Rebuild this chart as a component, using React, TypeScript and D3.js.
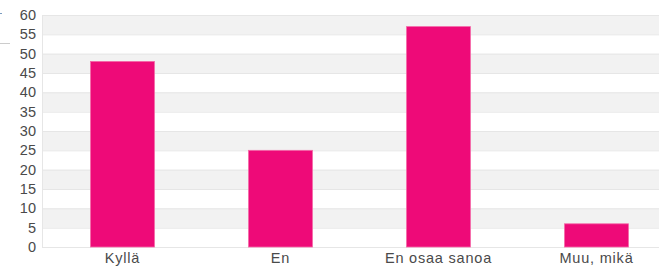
import React, { useEffect, useRef } from "react";
import * as d3 from "d3";

const categories = ["Kyllä", "En", "En osaa sanoa", "Muu, mikä"];
const values = [48, 25, 57, 6];
const yTicks = [0, 5, 10, 15, 20, 25, 30, 35, 40, 45, 50, 55, 60];

const W = 659;
const H = 267;

export default function App() {
  const svgRef = useRef<SVGSVGElement>(null);

  useEffect(() => {
    const svg = d3.select(svgRef.current);
    svg.selectAll("*").remove();

    const left = 42;
    const top = 15;
    const bottom = 247;

    // the plot runs past the right edge of the picture
    const x = d3
      .scaleBand()
      .domain(categories)
      .range([left + 1.5, left + 633.5])
      .paddingInner(0.595)
      .paddingOuter(0.2975);
    const y = d3.scaleLinear().domain([0, 60]).range([bottom, top]);

    // alternating bands
    svg
      .append("g")
      .selectAll("rect")
      .data(yTicks.slice(0, -1).filter((t) => t % 10 === 5))
      .join("rect")
      .attr("x", left)
      .attr("width", W - left)
      .attr("y", (d) => y(d + 5))
      .attr("height", (d) => y(d) - y(d + 5))
      .attr("fill", "#f2f2f2");

    // grid lines
    svg
      .append("g")
      .selectAll("line")
      .data(yTicks)
      .join("line")
      .attr("x1", left)
      .attr("x2", W)
      .attr("y1", (d) => y(d) + 0.5)
      .attr("y2", (d) => y(d) + 0.5)
      .attr("stroke", "#e6e6e6");

    svg
      .append("line")
      .attr("x1", left + 0.5)
      .attr("x2", left + 0.5)
      .attr("y1", top)
      .attr("y2", bottom)
      .attr("stroke", "#e6e6e6");

    // y axis
    const yAxis = d3.axisLeft(y).tickValues(yTicks).tickSize(0).tickPadding(6);
    const gy = svg.append("g").attr("transform", `translate(${left},0)`).call(yAxis);
    gy.select(".domain").remove();
    gy.selectAll("text")
      .attr("font-family", "Liberation Sans, Arial, sans-serif")
      .attr("font-size", 14.5)
      .attr("fill", "#4a4a4a");

    // bars
    svg
      .append("g")
      .selectAll("rect")
      .data(values)
      .join("rect")
      .attr("x", (d, i) => x(categories[i])!)
      .attr("width", x.bandwidth())
      .attr("y", (d) => y(d))
      .attr("height", (d) => y(0) - y(d))
      .attr("fill", "#ee0a78")
      .attr("stroke", "#f46aa8")
      .attr("stroke-width", 0.8);

    // x axis
    const xAxis = d3.axisBottom(x).tickSize(0).tickPadding(6);
    const gx = svg.append("g").attr("transform", `translate(0,${bottom})`).call(xAxis);
    gx.select(".domain").remove();
    gx.selectAll("text")
      .attr("font-family", "Liberation Sans, Arial, sans-serif")
      .attr("font-size", 14.5)
      .attr("letter-spacing", 0.8)
      .attr("fill", "#4a4a4a");

    // cut-off bits at the top left
    svg
      .append("line")
      .attr("x1", 0)
      .attr("x2", 10)
      .attr("y1", 43.5)
      .attr("y2", 43.5)
      .attr("stroke", "#ccc");
    svg
      .append("line")
      .attr("x1", 0)
      .attr("x2", 2)
      .attr("y1", 13.5)
      .attr("y2", 13.5)
      .attr("stroke", "#7a9cc0");
  }, []);

  return (
    <svg
      ref={svgRef}
      width={W}
      height={H}
      style={{ position: "absolute", left: 0, top: 0, background: "#fff" }}
    />
  );
}
